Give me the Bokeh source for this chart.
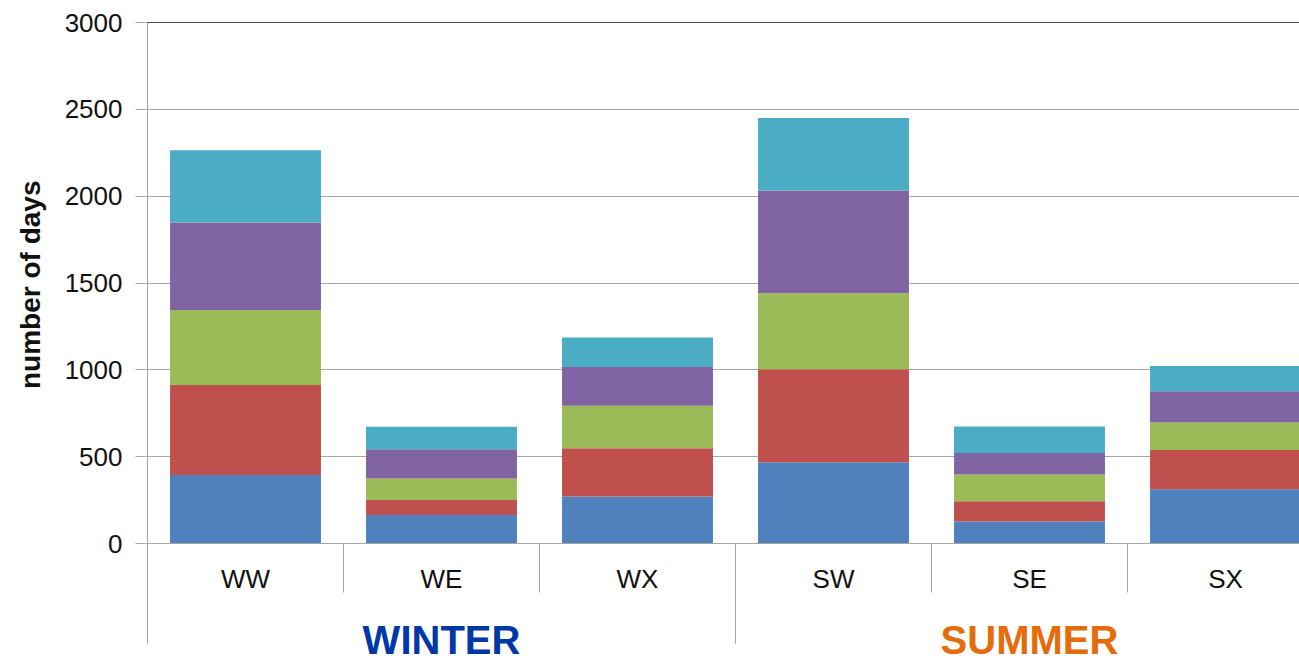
from bokeh.plotting import figure
from bokeh.models import Range1d, FixedTicker, ColumnDataSource, Title
from bokeh.core.properties import value
from bokeh.embed import file_html
from bokeh.resources import INLINE

# ---- data -------------------------------------------------------------
categories = ["WW", "WE", "WX", "SW", "SE", "SX"]
groups = ["WINTER", "SUMMER"]
group_size = 3
group_colors = ["#0038A8", "#E46C0A"]

# stacked layers, bottom to top
layer_1 = [395, 164, 271, 468, 126, 313]
layer_2 = [517, 87, 278, 536, 117, 225]
layer_3 = [432, 123, 244, 437, 155, 159]
layer_4 = [505, 168, 224, 591, 123, 179]
layer_5 = [415, 130, 169, 418, 153, 146]
layer_colors = ["#4F81BD", "#C0504D", "#9BBB59", "#8064A2", "#4BACC6"]

y_ticks = [0, 500, 1000, 1500, 2000, 2500, 3000]
y_title = "number of days"

# ---- layout -----------------------------------------------------------
W, H = 1299, 660
LEFT, TOP = 145, 20
AXIS_PX = 147                      # pixel column of the value axis line
CAT_PX = 196                       # width of one category slot in pixels
PX_PER_UNIT = 521 / 3000           # vertical scale
FONT = "Liberation Sans"
GRID = "#A6A6A6"

x_start = (LEFT - AXIS_PX) / CAT_PX
x_end = x_start + (W - LEFT) / CAT_PX
y_top = y_ticks[-1] + 2 / PX_PER_UNIT
y_bot = y_top - (H - TOP) / PX_PER_UNIT


def below(px):
    """Data y for a point `px` pixels under the zero line."""
    return -px / PX_PER_UNIT


p = figure(width=W, height=H,
           x_range=Range1d(x_start, x_end), y_range=Range1d(y_bot, y_top),
           x_axis_location=None,
           output_backend="svg", toolbar_location=None,
           min_border_left=LEFT, min_border_top=TOP,
           min_border_bottom=0, min_border_right=0)
p.outline_line_color = None
p.background_fill_color = "white"
p.border_fill_color = "white"
p.xgrid.grid_line_color = None

# y axis
p.yaxis.ticker = FixedTicker(ticks=y_ticks)
p.yaxis.axis_line_color = None
p.yaxis.major_tick_out = 10
p.yaxis.major_tick_in = 0
p.yaxis.major_tick_line_color = GRID
p.yaxis.minor_tick_line_color = None
p.yaxis.major_label_standoff = 13
p.yaxis.major_label_text_font = FONT
p.yaxis.major_label_text_font_size = "26px"
p.yaxis.major_label_text_color = "#111111"

p.ygrid.ticker = FixedTicker(ticks=y_ticks)
p.ygrid.grid_line_color = GRID
p.ygrid.grid_line_width = 1

# axis title, placed along the 0..3000 span rather than the whole frame,
# and pushed towards the outer edge of its panel
title_len_px = 205
span_mid_px = (22 + 543) / 2 - TOP
p.add_layout(Title(text=y_title, align="right", vertical_align="top",
                   offset=span_mid_px - title_len_px / 2,
                   text_font=FONT, text_font_size="28px",
                   text_font_style="bold", text_color="#111111",
                   standoff=28), "left")

# stacked bars
xs = [i + 0.5 for i in range(len(categories))]
keys = ["l1", "l2", "l3", "l4", "l5"]
src = ColumnDataSource(dict(x=xs, l1=layer_1, l2=layer_2, l3=layer_3,
                            l4=layer_4, l5=layer_5))
p.vbar_stack(keys, x="x", width=0.77, fill_color=layer_colors,
             line_color=None, source=src)

# frame lines: top border, baseline
p.segment(x0=[0], y0=[y_ticks[-1]], x1=[x_end], y1=[y_ticks[-1]],
          line_color="#4D4D4D", line_width=1)
p.segment(x0=[0], y0=[0], x1=[x_end], y1=[0], line_color=GRID, line_width=1)

# category separators: short between categories, long between groups
n = len(categories)
short_x = [i for i in range(1, n) if i % group_size != 0]
long_x = [i for i in range(0, n + 1) if i % group_size == 0]
p.segment(x0=short_x, y0=[0] * len(short_x), x1=short_x,
          y1=[below(49)] * len(short_x), line_color=GRID, line_width=1)
p.segment(x0=long_x, y0=[y_ticks[-1] if x == 0 else 0 for x in long_x],
          x1=long_x, y1=[below(100)] * len(long_x),
          line_color=GRID, line_width=1)

# category labels
p.text(x=xs, y=[below(35)] * n, text=categories,
       text_font=value(FONT), text_font_size="26px", text_color="#111111",
       text_align="center", text_baseline="middle")

# group labels
gx = [g * group_size + group_size / 2 for g in range(len(groups))]
p.text(x=gx, y=[below(96)] * len(groups), text=groups,
       text_font=value(FONT), text_font_size="40px", text_font_style="bold",
       text_color=group_colors, text_align="center",
       text_baseline="middle")

open("out.html", "w").write(file_html(p, INLINE))
